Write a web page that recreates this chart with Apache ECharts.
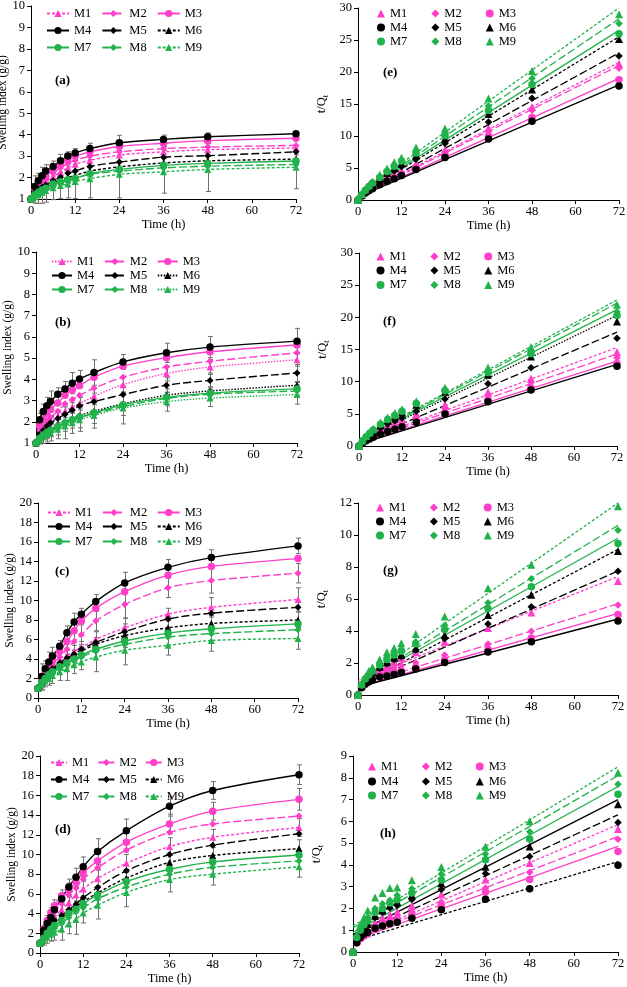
<!DOCTYPE html>
<html><head><meta charset="utf-8">
<script src="https://cdn.jsdelivr.net/npm/echarts@6/dist/echarts.min.js"></script>
<style>html,body{margin:0;padding:0;background:#fff}#c{width:627px;height:987px}</style>
</head><body><div id="c"></div><script>
// ---------------- DATA ----------------
const TIME = [0,1,2,3,4,6,8,10,12,16,24,36,48,72];
const NAMES = ['M1','M2','M3','M4','M5','M6','M7','M8','M9'];
const X_TICKS = [0,12,24,36,48,60,72];

// Swelling index (g/g) — panels a-d, one row per series M1..M9
const swellA = [
 [1,1.35,1.5,1.65,1.8,2.05,2.25,2.45,2.62,2.8,3.05,3.2,3.3,3.38],
 [1,1.42,1.62,1.8,1.95,2.2,2.45,2.65,2.8,3.0,3.2,3.35,3.42,3.5],
 [1,1.5,1.75,1.92,2.1,2.35,2.6,2.85,3.0,3.2,3.45,3.6,3.72,3.83],
 [1,1.58,1.85,2.08,2.3,2.52,2.78,3.0,3.15,3.35,3.62,3.78,3.9,4.04],
 [1,1.3,1.45,1.55,1.65,1.85,2.02,2.2,2.3,2.52,2.72,2.95,3.02,3.2],
 [1,1.28,1.4,1.5,1.6,1.75,1.9,2.0,2.1,2.3,2.5,2.68,2.78,2.86],
 [1,1.2,1.32,1.42,1.5,1.7,1.8,1.9,1.97,2.18,2.38,2.57,2.66,2.77],
 [1,1.18,1.3,1.38,1.45,1.62,1.75,1.85,1.95,2.15,2.3,2.45,2.53,2.61],
 [1,1.1,1.2,1.3,1.4,1.52,1.63,1.7,1.82,1.95,2.15,2.27,2.38,2.48]
];
const swellB = [
 [1,1.45,1.65,1.85,2.0,2.25,2.5,2.7,2.85,3.2,3.75,4.28,4.58,4.92],
 [1,1.6,1.85,2.05,2.2,2.5,2.85,3.05,3.25,3.58,4.1,4.58,4.85,5.25],
 [1,1.8,2.1,2.4,2.6,2.88,3.25,3.5,3.7,4.1,4.62,5.02,5.3,5.62],
 [1,2.1,2.48,2.75,2.95,3.3,3.55,3.82,4.02,4.32,4.82,5.25,5.52,5.8],
 [1,1.4,1.6,1.8,1.95,2.15,2.35,2.55,2.75,2.95,3.28,3.72,3.95,4.3],
 [1,1.25,1.42,1.55,1.65,1.85,2.0,2.15,2.3,2.5,2.85,3.25,3.45,3.72],
 [1,1.22,1.38,1.5,1.6,1.78,1.95,2.1,2.22,2.42,2.8,3.15,3.35,3.55],
 [1,1.18,1.32,1.45,1.55,1.72,1.9,2.05,2.2,2.38,2.72,3.1,3.3,3.45],
 [1,1.15,1.28,1.4,1.5,1.65,1.8,1.95,2.1,2.3,2.65,2.95,3.12,3.28]
];
const swellC = [
 [1,1.75,2.3,2.7,3.1,3.7,4.3,4.8,5.2,6.0,7.2,8.6,9.3,10.1],
 [1,1.9,2.5,3.0,3.4,4.2,5.0,5.8,6.5,7.9,9.6,11.3,12.05,12.8],
 [1,2.0,2.7,3.3,3.8,4.8,5.8,6.9,7.9,9.2,10.9,12.6,13.5,14.3],
 [1,2.2,3.0,3.7,4.3,5.3,6.7,7.8,8.6,9.9,11.8,13.4,14.4,15.6],
 [1,1.7,2.2,2.65,3.0,3.6,4.1,4.5,5.0,5.7,6.8,8.1,8.7,9.3],
 [1,1.65,2.1,2.5,2.85,3.4,3.9,4.3,4.8,5.5,6.4,7.2,7.65,8.0],
 [1,1.6,2.0,2.4,2.7,3.2,3.6,4.0,4.4,5.0,5.85,6.65,7.1,7.6],
 [1,1.5,1.95,2.3,2.6,3.0,3.4,3.8,4.2,4.8,5.5,6.25,6.6,7.0],
 [1,1.4,1.75,2.0,2.3,2.7,3.0,3.4,3.7,4.2,4.9,5.4,5.9,6.1]
];
const swellD = [
 [1,2.0,2.7,3.2,3.7,4.4,5.1,5.9,6.5,7.55,9.1,10.8,11.75,12.75],
 [1,2.2,3.0,3.6,4.2,5.0,5.9,6.6,7.5,8.65,10.45,12.25,13.1,13.9],
 [1,2.4,3.3,4.1,4.8,5.8,6.4,7.2,8.15,9.35,11.25,13.1,14.4,15.6],
 [1,2.3,3.0,3.6,4.4,5.5,6.7,7.7,8.75,10.3,12.4,14.9,16.5,18.1],
 [1,1.9,2.5,2.9,3.3,3.8,4.4,4.95,5.6,6.65,8.35,10.0,10.95,12.1],
 [1,1.8,2.3,2.7,3.1,3.6,4.2,4.7,5.2,6.1,7.6,9.2,9.9,10.6],
 [1,1.5,2.0,2.4,2.8,3.3,4.0,4.45,5.0,5.9,7.25,8.5,9.25,9.95],
 [1,1.4,1.9,2.2,2.5,3.0,3.6,4.2,4.6,5.5,6.7,8.0,8.7,9.35],
 [1,1.3,1.6,1.9,2.1,2.4,2.95,3.4,4.05,4.85,6.15,7.45,8.0,8.75]
];

// Error bar half-widths (null = no visible bars)
const errA = [
 null,
 null,
 [0,0.2,0.2,0.2,0.2,0.15,0.15,0.15,0.15,0.2,0.2,0.15,0.15,0.1],
 [0,0.5,0.35,0.4,0.3,0.25,0.3,0.2,0.2,0.25,0.35,0.2,0.18,0.08],
 null,
 [0,0.2,0.2,0.2,0.2,0.2,0.2,0.2,0.2,0.2,0.25,0.2,0.2,0.2],
 null,
 null,
 [0,0.3,0.4,0.5,0.55,0.55,0.6,0.65,0.8,0.9,1.1,1.0,1.03,1.0]
];
const errB = [
 [0,0.2,0.2,0.3,0.3,0.3,0.3,0.3,0.3,0.4,0.4,0.35,0.35,0.3],
 null,
 null,
 [0,0.3,0.35,0.4,0.5,0.3,0.35,0.5,0.4,0.6,0.35,0.45,0.5,0.6],
 [0,0.2,0.2,0.3,0.3,0.3,0.35,0.35,0.4,0.4,0.4,0.35,0.35,0.4],
 null,
 [0,0.2,0.2,0.3,0.3,0.4,0.4,0.4,0.5,0.5,0.5,0.4,0.3,0.3],
 null,
 [0,0.2,0.3,0.35,0.4,0.45,0.6,0.5,0.55,0.6,0.75,0.45,0.4,0.45]
];
const errC = [
 [0,0.4,0.4,0.5,0.5,0.5,0.6,0.6,0.6,0.8,1.0,0.6,1.0,1.2],
 [0,0.5,0.5,0.6,0.6,0.7,0.8,0.9,1.0,1.0,1.4,1.0,1.3,1.0],
 null,
 [0,1.3,0.8,1.0,0.9,0.6,0.7,0.9,0.6,0.7,1.1,0.8,0.8,0.8],
 null,
 [0,0.4,0.4,0.4,0.5,0.5,0.6,0.6,0.5,0.7,1.2,0.8,0.8,0.8],
 null,
 null,
 [0,0.6,0.6,0.7,0.8,0.9,1.2,0.9,0.8,1.5,1.5,1.0,1.1,1.1]
];
const errD = [
 [0,0.3,0.4,0.4,0.5,0.5,0.6,0.7,0.8,0.9,0.9,0.9,0.8,0.9],
 null,
 [0,0.4,0.5,0.5,0.6,0.6,0.7,0.7,0.8,0.9,1.0,1.0,0.9,1.1],
 [0,0.4,0.5,0.6,0.6,0.6,0.8,0.9,1.0,1.3,1.2,1.0,0.9,1.0],
 null,
 [0,0.3,0.4,0.4,0.5,0.5,0.6,0.6,0.6,0.7,0.9,0.9,0.8,0.9],
 null,
 null,
 [0,0.5,0.6,0.7,0.8,1.1,1.0,1.5,1.0,1.4,1.45,1.25,1.1,1.05]
];

// t/Qt — panels e-h
const kinE = [
 [0,0.74,1.33,1.82,2.22,2.93,3.56,4.08,4.58,5.71,7.87,11.25,14.55,21.3],
 [0,0.70,1.23,1.67,2.05,2.73,3.27,3.77,4.29,5.33,7.5,10.75,14.04,20.57],
 [0,0.67,1.14,1.56,1.9,2.55,3.08,3.51,4.0,5.0,6.96,10.0,12.9,18.8],
 [0,0.63,1.08,1.44,1.74,2.38,2.88,3.33,3.81,4.78,6.63,9.52,12.31,17.82],
 [0,0.77,1.38,1.94,2.42,3.24,3.96,4.55,5.22,6.35,8.82,12.2,15.89,22.5],
 [0,0.78,1.43,2.0,2.5,3.43,4.21,5.0,5.71,6.96,9.6,13.43,17.27,25.17],
 [0,0.83,1.52,2.11,2.67,3.53,4.44,5.26,6.09,7.34,10.08,14.01,18.05,25.99],
 [0,0.85,1.54,2.17,2.76,3.7,4.57,5.41,6.15,7.44,10.43,14.69,18.97,27.59],
 [0,0.91,1.67,2.31,2.86,3.95,4.91,5.88,6.59,8.21,11.16,15.86,20.17,29.03]
];
const kinF = [
 [0,0.69,1.21,1.62,2.0,2.67,3.2,3.7,4.21,5.0,6.4,8.41,10.48,14.63],
 [0,0.63,1.08,1.46,1.82,2.4,2.81,3.28,3.69,4.47,5.85,7.86,9.9,13.71],
 [0,0.56,0.95,1.25,1.54,2.08,2.46,2.86,3.24,3.9,5.19,7.17,9.06,12.81],
 [0,0.48,0.81,1.09,1.36,1.82,2.25,2.62,2.99,3.7,4.98,6.86,8.7,12.41],
 [0,0.71,1.25,1.67,2.05,2.79,3.4,3.92,4.36,5.42,7.32,9.68,12.15,16.74],
 [0,0.8,1.41,1.94,2.42,3.24,4.0,4.65,5.22,6.4,8.42,11.08,13.91,19.35],
 [0,0.82,1.45,2.0,2.5,3.37,4.1,4.76,5.41,6.61,8.57,11.43,14.33,20.28],
 [0,0.85,1.52,2.07,2.58,3.49,4.21,4.88,5.45,6.72,8.82,11.61,14.55,20.87],
 [0,0.87,1.56,2.14,2.67,3.64,4.44,5.13,5.71,6.96,9.06,12.2,15.38,21.95]
];
const kinG = [
 [0,0.57,0.87,1.11,1.29,1.62,1.86,2.08,2.31,2.67,3.33,4.19,5.16,7.13],
 [0,0.53,0.8,1.0,1.18,1.43,1.6,1.72,1.85,2.03,2.5,3.19,3.98,5.63],
 [0,0.5,0.74,0.91,1.05,1.25,1.38,1.45,1.52,1.74,2.2,2.86,3.56,5.03],
 [0,0.45,0.67,0.81,0.93,1.13,1.19,1.28,1.4,1.62,2.03,2.69,3.33,4.62],
 [0,0.59,0.91,1.13,1.33,1.67,1.95,2.22,2.4,2.81,3.53,4.44,5.52,7.74],
 [0,0.61,0.95,1.2,1.4,1.76,2.05,2.33,2.5,2.91,3.75,5.0,6.27,9.0],
 [0,0.63,1.0,1.25,1.48,1.88,2.22,2.5,2.73,3.2,4.1,5.41,6.76,9.47],
 [0,0.67,1.03,1.3,1.54,2.0,2.35,2.63,2.86,3.33,4.36,5.76,7.27,10.29],
 [0,0.71,1.14,1.5,1.74,2.22,2.67,2.94,3.24,3.81,4.9,6.67,8.14,11.8]
];
const kinH = [
 [0,0.5,0.74,0.94,1.08,1.36,1.57,1.69,1.85,2.12,2.64,3.33,4.09,5.65],
 [0,0.45,0.67,0.83,0.95,1.2,1.36,1.52,1.6,1.85,2.3,2.94,3.66,5.18],
 [0,0.42,0.61,0.73,0.83,1.03,1.25,1.39,1.47,1.71,2.13,2.75,3.33,4.62],
 [0,0.43,0.67,0.83,0.91,1.09,1.19,1.3,1.37,1.55,1.94,2.42,2.91,3.98],
 [0,0.53,0.8,1.03,1.21,1.58,1.82,2.02,2.14,2.41,2.87,3.6,4.38,5.95],
 [0,0.56,0.87,1.11,1.29,1.67,1.9,2.13,2.31,2.62,3.16,3.91,4.85,6.79],
 [0,0.67,1.0,1.25,1.43,1.82,2.0,2.25,2.4,2.71,3.31,4.24,5.19,7.24],
 [0,0.71,1.05,1.36,1.6,2.0,2.22,2.38,2.61,2.91,3.58,4.5,5.52,7.7],
 [0,0.77,1.25,1.58,1.9,2.5,2.71,2.94,2.96,3.3,3.9,4.83,6.0,8.23]
];
// Fitted trend lines: value at t=0 and at t=72
const fitE = [[0.6,21.5],[0.5,21.0],[0.5,19.0],[0.5,18.0],[0.6,23.0],[0.7,25.5],[0.8,26.5],[0.8,28.3],[0.9,30.0]];
const fitF = [[0.6,15.3],[0.5,14.3],[0.4,13.2],[0.3,12.7],[0.6,17.7],[0.8,20.3],[0.9,21.2],[0.9,22.2],[1.0,22.7]];
const fitG = [[0.9,7.4],[0.6,5.7],[0.5,5.1],[0.5,4.75],[0.6,7.75],[0.6,9.1],[0.7,9.8],[0.7,10.6],[0.7,12.0]];
const fitH = [[0.6,5.85],[0.6,5.3],[0.55,4.85],[0.5,4.15],[0.7,6.3],[0.8,7.0],[0.9,7.6],[1.1,8.1],[1.2,8.5]];

// ---------------- STYLE ----------------
const FONT = '"Liberation Serif", "Times New Roman", serif';
const PINK = '#FF3EC9', BLACK = '#000000', GREEN = '#22B24C';
const COLORS = [PINK,PINK,PINK,BLACK,BLACK,BLACK,GREEN,GREEN,GREEN];
const SYMBOLS = ['triangle','diamond','circle','circle','diamond','triangle','circle','diamond','triangle'];
const DASH = {solid:'solid', long:[8,3], short:[3,2], dot:[1.5,1.5]};
const STY_STD = ['short','long','solid','solid','long','short','solid','long','short'];
const STY_B = ['dot','long','solid','solid','long','dot','solid','long','dot'];
const STY_F = ['short','long','solid','solid','long','dot','solid','long','short'];
const STY_H = ['short','long','solid','short','long','solid','solid','long','short'];

const PANELS = [
 {p:'a', kind:'swell', data:swellA, err:errA, sty:STY_STD, g:[31,296,6,199], y:[1,10,1], lab:[55,82], leg:{x:46,rows:[14,31,48],iw:22,step:53}},
 {p:'b', kind:'swell', data:swellB, err:errB, sty:STY_B, g:[36,297,252,443], y:[1,10,1], lab:[55,324], leg:{x:51,rows:[262,276,290],iw:20,step:50.5}},
 {p:'c', kind:'swell', data:swellC, err:errC, sty:STY_STD, g:[38,298,503,698], y:[0,20,2], lab:[55,573], leg:{x:47,rows:[513,527,542],iw:22,step:52.5}},
 {p:'d', kind:'swell', data:swellD, err:errD, sty:STY_STD, g:[40,299,756,953], y:[0,20,2], lab:[55,831], leg:{x:50,rows:[763,780,797],iw:16,step:45}},
 {p:'e', kind:'kin', data:kinE, fit:fitE, sty:STY_STD, g:[358,619,8,200], y:[0,30,5], lab:[383,74], leg:{x:377,rows:[14,28,42],iw:8,step:53}},
 {p:'f', kind:'kin', data:kinF, fit:fitF, sty:STY_F, g:[359,617,253,446], y:[0,30,5], lab:[383,323], leg:{x:376.5,rows:[257,271,285.5],iw:8,step:52.5}},
 {p:'g', kind:'kin', data:kinG, fit:fitG, sty:STY_STD, g:[358,618,503,695], y:[0,12,2], lab:[383,572], leg:{x:376,rows:[508,522,536],iw:8,step:52.5}},
 {p:'h', kind:'kin', data:kinH, fit:fitH, sty:STY_H, g:[353,618,756,952], y:[0,9,1], lab:[380,835], leg:{x:368,rows:[767,782,796],iw:8,step:52.5}}
];

const grid = [], xAxis = [], yAxis = [], series = [], legend = [], graphic = [];
const AXC = '#000';
PANELS.forEach((P, gi) => {
  const [x0,x1,y0,y1] = P.g;
  grid.push({left:x0, top:y0, width:x1-x0, height:y1-y0, outerBoundsMode:'none', containLabel:false});
  xAxis.push({type:'value', gridIndex:gi, min:X_TICKS[0], max:X_TICKS[X_TICKS.length-1], interval:X_TICKS[1]-X_TICKS[0],
    axisLine:{show:true, onZero:false, lineStyle:{color:AXC, width:1}},
    axisTick:{show:true, inside:false, length:4, lineStyle:{color:AXC}},
    axisLabel:{fontFamily:FONT, fontSize:12.5, color:'#000', margin:5},
    splitLine:{show:false},
    name:'Time (h)', nameLocation:'middle', nameGap:19,
    nameTextStyle:{fontFamily:FONT, fontSize:12.5, color:'#000'}});
  const isSwell = P.kind === 'swell';
  const yName = isSwell ? 'Swelling index (g/g)' : '{a|t/Q}{b|t}';
  yAxis.push({type:'value', gridIndex:gi, min:P.y[0], max:P.y[1], interval:P.y[2],
    axisLine:{show:true, onZero:false, lineStyle:{color:AXC, width:1}},
    axisTick:{show:true, inside:false, length:4, lineStyle:{color:AXC}},
    axisLabel:{fontFamily:FONT, fontSize:12.5, color:'#000', margin:6},
    splitLine:{show:false},
    name:yName, nameLocation:'middle', nameGap: isSwell ? 15 : 28, nameRotate:90,
    nameTextStyle:{fontFamily:FONT, fontSize: isSwell ? 11.5 : 12.5, color:'#000',
      rich:{a:{fontFamily:FONT, fontSize:12.5, color:'#000'}, b:{fontFamily:FONT, fontSize:8.5, color:'#000', padding:[7,0,0,0]}}}});

  // error bars (behind)
  if (P.err) {
    const ed = [];
    P.err.forEach((arr, k) => { if (!arr) return; arr.forEach((e, j) => { if (e > 0) ed.push([TIME[j], P.data[k][j], e]); }); });
    series.push({type:'custom', name:P.p+'_err', xAxisIndex:gi, yAxisIndex:gi, data:ed, z:1, silent:true, clip:false,
      encode:{x:0, y:1},
      renderItem(params, api){
        const t = api.value(0), v = api.value(1), e = api.value(2);
        const lo = api.coord([t, v - e]), hi = api.coord([t, v + e]);
        const c = 2.5, st = {stroke:'#6f6f6f', lineWidth:1};
        const xx = Math.round(lo[0]) + 0.5;
        return {type:'group', children:[
          {type:'line', shape:{x1:xx, y1:lo[1], x2:xx, y2:hi[1]}, style:st},
          {type:'line', shape:{x1:xx-c, y1:lo[1], x2:xx+c, y2:lo[1]}, style:st},
          {type:'line', shape:{x1:xx-c, y1:hi[1], x2:xx+c, y2:hi[1]}, style:st}
        ]};
      }});
  }

  const legNames = [];
  P.data.forEach((vals, k) => {
    const nm = P.p + '_' + NAMES[k];
    legNames.push(nm);
    const pts = TIME.map((t, j) => [t, vals[j]]);
    if (isSwell) {
      series.push({type:'line', name:nm, xAxisIndex:gi, yAxisIndex:gi, data:pts, z:3,
        smooth:0.3, symbol:SYMBOLS[k], symbolSize: SYMBOLS[k]==='circle'?7.5:7, showSymbol:true,
        lineStyle:{color:COLORS[k], width:1.4, type:DASH[P.sty[k]]},
        itemStyle:{color:COLORS[k]}, emphasis:{disabled:true}});
    } else {
      series.push({type:'line', name:P.p+'_fit'+k, xAxisIndex:gi, yAxisIndex:gi,
        data:[[X_TICKS[0], P.fit[k][0]], [X_TICKS[X_TICKS.length-1], P.fit[k][1]]], z:2,
        symbol:'none', lineStyle:{color:COLORS[k], width:1.3, type:DASH[P.sty[k]]}, emphasis:{disabled:true}});
      series.push({type:'scatter', name:nm, xAxisIndex:gi, yAxisIndex:gi, data:pts, z:3,
        symbol:SYMBOLS[k], symbolSize: SYMBOLS[k]==='triangle'?8:7.5,
        itemStyle:{color:COLORS[k], opacity:1}, emphasis:{disabled:true}});
    }
  });

  const L = P.leg, TW = 16;
  L.rows.forEach((ry, r) => {
    legend.push({data:legNames.slice(r*3, r*3+3), left:L.x, top:ry-7, padding:0, orient:'horizontal',
      itemWidth:L.iw, itemHeight: isSwell ? 9 : 8, itemGap:L.step - L.iw - 5 - TW, selectedMode:false,
      formatter: n => n.slice(2),
      textStyle:{fontFamily:FONT, fontSize:12.5, color:'#000', width:TW}});
  });

  graphic.push({type:'text', left:P.lab[0], top:P.lab[1]-8,
    style:{text:'(' + P.p + ')', font:'bold 13px ' + FONT, fill:'#000'}});
});

const chart = echarts.init(document.getElementById('c'), null, {renderer:'canvas'});
chart.setOption({animation:false, backgroundColor:'#fff', grid, xAxis, yAxis, series, legend, graphic, tooltip:{show:false}});
</script></body></html>
